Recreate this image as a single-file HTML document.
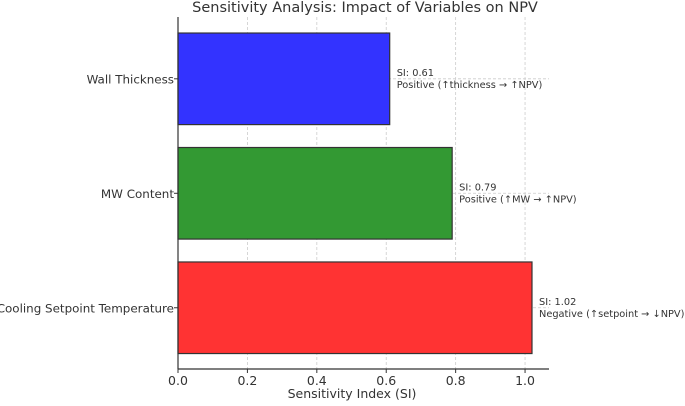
<!DOCTYPE html>
<html><head><meta charset="utf-8"><style>
body{margin:0;background:#fff;}
svg text{font-family:"DejaVu Sans","Liberation Sans",sans-serif;fill:#333;}
</style></head><body>
<svg id="chart" width="685" height="401" viewBox="0 0 685 401" xmlns="http://www.w3.org/2000/svg">
<text x="365" y="12" font-size="14.5" text-anchor="middle">Sensitivity Analysis: Impact of Variables on NPV</text>
<g id="grid"></g><g id="bars"></g><g id="labels"></g><g id="axes"></g>
<text x="352" y="398" font-size="12.5" text-anchor="middle">Sensitivity Index (SI)</text>
</svg>
<script>
const categories = ["Cooling Setpoint Temperature","MW Content","Wall Thickness"];
const values = [1.02, 0.79, 0.61];
const colors = ["#ff3333","#339933","#3333ff"];
const annotations = ["Negative (↑setpoint → ↓NPV)","Positive (↑MW → ↑NPV)","Positive (↑thickness → ↑NPV)"];
const xTicks = [0,0.2,0.4,0.6,0.8,1.0];
const xTickLabels = ["0.0","0.2","0.4","0.6","0.8","1.0"];
const NS="http://www.w3.org/2000/svg";
const L=178,R=549,T=17,B=369;
const xMin=0,xMax=1.069,yMin=-0.535,yMax=2.54;
const x=v=>L+(v-xMin)/(xMax-xMin)*(R-L);
const y=v=>B-(v-yMin)/(yMax-yMin)*(B-T);
function mk(tag,attrs,parent){const e=document.createElementNS(NS,tag);for(const k in attrs)e.setAttribute(k,attrs[k]);document.getElementById(parent).appendChild(e);return e;}
xTicks.forEach((t,i)=>{
  const g=mk('line',{x1:x(t),x2:x(t),y1:T,y2:B,stroke:'#ccc','stroke-width':0.8,'stroke-dasharray':'3,2'},'grid');
  
  
  const tk=mk('line',{x1:x(t),x2:x(t),y1:B,y2:B+4,stroke:'#333','stroke-width':1},'axes');
  
  
  const tl=mk('text',{x:x(t),y:B+16,'font-size':12.5,'text-anchor':'middle'},'axes');
  tl.textContent=xTickLabels[i];
  
  
});
categories.forEach((c,i)=>{
  const g=mk('line',{x1:L,x2:R,y1:y(i),y2:y(i),stroke:'#ccc','stroke-width':0.8,'stroke-dasharray':'3,2'},'grid');
  
  
  const bh=y(0)-y(0.8);
  const b=mk('rect',{x:x(0),y:y(i)-bh/2,width:x(values[i])-x(0),height:bh,fill:colors[i],stroke:'#333','stroke-width':1.2},'bars');
  
  
  const a=mk('text',{x:x(values[i])+7,y:y(i)-3,'font-size':9.8},'labels');
  a.textContent='SI: '+values[i].toFixed(2);
  
  
  const a2=mk('text',{x:x(values[i])+7,y:y(i)+9,'font-size':9.8},'labels');
  a2.textContent=annotations[i];
  
  
  const tk=mk('line',{x1:L-4,x2:L,y1:y(i),y2:y(i),stroke:'#333','stroke-width':1},'axes');
  
  
  const tl=mk('text',{x:L-4,y:y(i)+4.5,'font-size':11.9,'text-anchor':'end'},'axes');
  tl.textContent=c;
  
  
});
const la=mk('line',{x1:L,x2:L,y1:T,y2:B,stroke:'#333','stroke-width':1.2},'axes');


const ba=mk('line',{x1:L,x2:R,y1:B,y2:B,stroke:'#333','stroke-width':1.2},'axes');


</script>
</body></html>
